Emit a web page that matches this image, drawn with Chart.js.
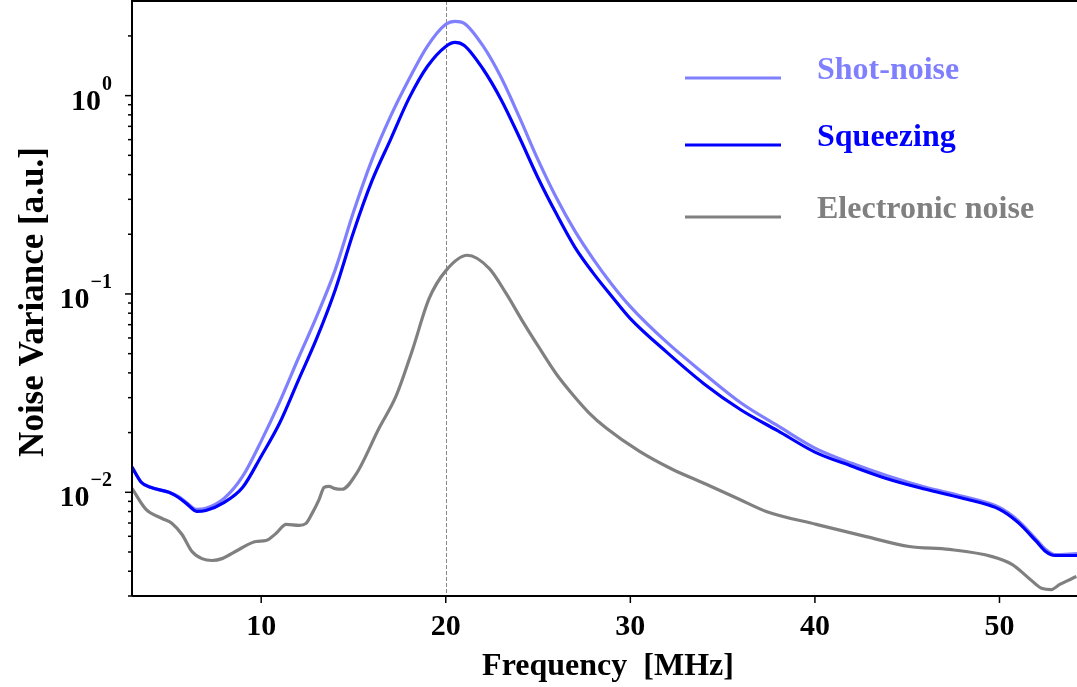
<!DOCTYPE html>
<html>
<head>
<meta charset="utf-8">
<title>Noise Variance</title>
<script src="https://cdn.jsdelivr.net/npm/chart.js@4.4.1/dist/chart.umd.min.js"></script>
<style>
    body { margin: 0; background: #fff; }
    #noiseChart { display: block; }
</style>
</head>
<body>
<canvas id="noiseChart" width="1077" height="687"></canvas>
<script>
// Frequency grid (MHz) for shot-noise and squeezing traces
const freqMHz = [3, 3.5, 4, 5, 5.5, 6, 6.5, 7, 8, 9, 10, 11, 12, 13, 14, 15, 16, 17, 18, 19, 20, 20.5, 21,
    22, 23, 24, 25, 26, 27, 28, 29, 30, 32, 34, 36, 38, 40, 42, 44, 46, 48, 50, 51, 52, 52.5, 53, 54.2];

const shotNoise = [0.01339, 0.01124, 0.0106, 0.0100, 0.00955, 0.0088, 0.0082, 0.0083, 0.00933, 0.01205,
    0.01812, 0.02856, 0.04713, 0.0769, 0.1315, 0.2587, 0.4742, 0.783, 1.205, 1.771, 2.288, 2.37, 2.315,
    1.791, 1.234, 0.774, 0.474, 0.3044, 0.2073, 0.1495, 0.1117, 0.0864, 0.0568, 0.0396, 0.0282, 0.0216,
    0.0167, 0.014, 0.01205, 0.0106, 0.00955, 0.00839, 0.00722, 0.00578, 0.00515, 0.00485, 0.00491];

const squeezing = [0.01339, 0.01124, 0.0106, 0.0100, 0.00944, 0.00869, 0.00801, 0.0081, 0.0089, 0.0106,
    0.01521, 0.02235, 0.03648, 0.0595, 0.1042, 0.2048, 0.3713, 0.5985, 0.9656, 1.402, 1.771, 1.856, 1.791,
    1.37, 0.9544, 0.6129, 0.3844, 0.2527, 0.1719, 0.127, 0.0971, 0.0751, 0.0506, 0.0352, 0.026, 0.0204,
    0.01595, 0.01354, 0.01164, 0.01036, 0.00933, 0.0082, 0.00705, 0.00565, 0.00503, 0.0048, 0.0048];

// Electronic noise has its own (finer) grid because of the wiggles around 13 MHz
const freqElec = [3.0, 3.76, 4.63, 5.17, 5.71, 6.25, 6.79, 7.34, 7.88, 8.8, 9.72, 10.26, 10.8, 11.35,
    12.05, 12.43, 12.76, 13.14, 13.41, 13.68, 13.95, 14.38, 15.14, 16.39, 17.31, 18.18, 19.1, 20.02,
    21.16, 22.35, 23.27, 24.14, 25.06, 25.98, 26.85, 27.77, 28.69, 30.48, 32.27, 34.11, 35.9, 37.36,
    40.07, 42.78, 45.11, 47.28, 49.61, 50.7, 51.62, 52.32, 52.81, 53.24, 54.17];

const electronic = [0.01047, 0.0082, 0.00738, 0.00697, 0.00613, 0.00503, 0.00463, 0.00453, 0.00463,
    0.00515, 0.00565, 0.00571, 0.0062, 0.00689, 0.00681, 0.00697, 0.00783, 0.00922, 0.0106, 0.01072,
    0.01047, 0.01036, 0.01234, 0.02109, 0.0306, 0.05176, 0.0949, 0.1315, 0.1567, 0.1346, 0.1006,
    0.0734, 0.0536, 0.0396, 0.0313, 0.0251, 0.02109, 0.01613, 0.01307, 0.01098, 0.00922, 0.00801,
    0.00689, 0.00598, 0.00533, 0.00515, 0.00474, 0.00432, 0.00367, 0.00327, 0.00323, 0.00342, 0.00376];

const xTicks = [10, 20, 30, 40, 50];
const yMajorTicks = [1, 0.1, 0.01];
const yMajorExp = ["0", "\u22121", "\u22122"];
const seriesNames = ["Shot-noise", "Squeezing", "Electronic noise"];
const markerFreq = 20;

const SERIF = "'Liberation Serif', 'Times New Roman', serif";
const COLORS = ["#8080ff", "#0000ff", "#808080"];

const toPoints = (xs, ys) => xs.map((x, i) => ({ x, y: ys[i] }));

// Draws spines, ticks, labels, titles and the legend by hand (matplotlib look)
const decorPlugin = {
    id: "decor",
    beforeDatasetsDraw(chart) {
        const { ctx, chartArea, scales } = chart;
        const px = Math.round(scales.x.getPixelForValue(markerFreq)) + 0.5;
        ctx.save();
        ctx.strokeStyle = "#888";
        ctx.lineWidth = 1;
        ctx.setLineDash([4, 2]);
        ctx.beginPath();
        ctx.moveTo(px, chartArea.top);
        ctx.lineTo(px, chartArea.bottom);
        ctx.stroke();
        ctx.restore();
    },
    afterDraw(chart) {
        const { ctx, chartArea: a, scales } = chart;
        ctx.save();
        ctx.strokeStyle = "#000";
        ctx.fillStyle = "#000";

        // spines
        ctx.lineWidth = 2;
        ctx.beginPath();
        ctx.moveTo(a.left, a.bottom);
        ctx.lineTo(a.left, a.top);
        ctx.lineTo(a.right, a.top);
        ctx.moveTo(a.left, a.bottom);
        ctx.lineTo(a.right, a.bottom);
        ctx.stroke();

        // x ticks + labels
        ctx.lineWidth = 1.5;
        ctx.font = `bold 30px ${SERIF}`;
        ctx.textAlign = "center";
        ctx.textBaseline = "alphabetic";
        xTicks.forEach(t => {
            const x = scales.x.getPixelForValue(t);
            ctx.beginPath();
            ctx.moveTo(x, a.bottom);
            ctx.lineTo(x, a.bottom + 7);
            ctx.stroke();
            ctx.fillText(String(t), x, a.bottom + 39);
        });

        // y minor ticks
        for (let e = -3; e <= 0; e++) {
            for (let m = 2; m <= 9; m++) {
                const v = m * Math.pow(10, e);
                if (v < scales.y.min || v > scales.y.max * 0.999) continue;
                const y = scales.y.getPixelForValue(v);
                ctx.beginPath();
                ctx.moveTo(a.left, y);
                ctx.lineTo(a.left - 4, y);
                ctx.stroke();
            }
        }

        // y major ticks with 10^n labels
        const rightEdge = a.left - 20;
        yMajorTicks.forEach((t, i) => {
            const y = scales.y.getPixelForValue(t);
            ctx.beginPath();
            ctx.moveTo(a.left, y);
            ctx.lineTo(a.left - 7, y);
            ctx.stroke();

            ctx.textAlign = "left";
            ctx.font = `bold 20px ${SERIF}`;
            const supW = ctx.measureText(yMajorExp[i]).width;
            ctx.fillText(yMajorExp[i], rightEdge - supW, y - 6);
            ctx.textAlign = "right";
            ctx.font = `bold 30px ${SERIF}`;
            ctx.fillText("10", rightEdge - supW - 1, y + 14);
        });

        // axis titles
        ctx.font = `bold 32px ${SERIF}`;
        ctx.textAlign = "center";
        ctx.fillText("Frequency  [MHz]", 608, 675);
        ctx.save();
        ctx.font = `bold 35px ${SERIF}`;
        ctx.translate(43, 302);
        ctx.rotate(-Math.PI / 2);
        ctx.fillText("Noise Variance [a.u.]", 0, 0);
        ctx.restore();

        // legend
        const legendY = [78, 145, 217];
        ctx.lineWidth = 3;
        ctx.textAlign = "left";
        seriesNames.forEach((name, i) => {
            ctx.strokeStyle = COLORS[i];
            ctx.fillStyle = COLORS[i];
            ctx.beginPath();
            ctx.moveTo(685, legendY[i]);
            ctx.lineTo(781, legendY[i]);
            ctx.stroke();
            ctx.fillText(name, 817, legendY[i] + 1);
        });
        ctx.restore();
    }
};

const lineDataset = (label, data, color) => ({
    label,
    data,
    borderColor: color,
    backgroundColor: color,
    borderWidth: 3.2,
    pointRadius: 0,
    fill: false,
    cubicInterpolationMode: "monotone"
});

new Chart(document.getElementById("noiseChart"), {
    type: "line",
    data: {
        // index 0 is drawn on top
        datasets: [
            lineDataset(seriesNames[1], toPoints(freqMHz, squeezing), COLORS[1]),
            lineDataset(seriesNames[0], toPoints(freqMHz, shotNoise), COLORS[0]),
            lineDataset(seriesNames[2], toPoints(freqElec, electronic), COLORS[2])
        ]
    },
    options: {
        responsive: false,
        animation: false,
        devicePixelRatio: 1,
        layout: { padding: { left: 132, top: 1, right: 0, bottom: 91 } },
        plugins: { legend: { display: false }, tooltip: { enabled: false } },
        scales: {
            x: { type: "linear", min: 3, max: 54.2, display: false },
            y: { type: "logarithmic", min: 0.003, max: 3, display: false }
        }
    },
    plugins: [decorPlugin]
});
</script>
</body>
</html>
